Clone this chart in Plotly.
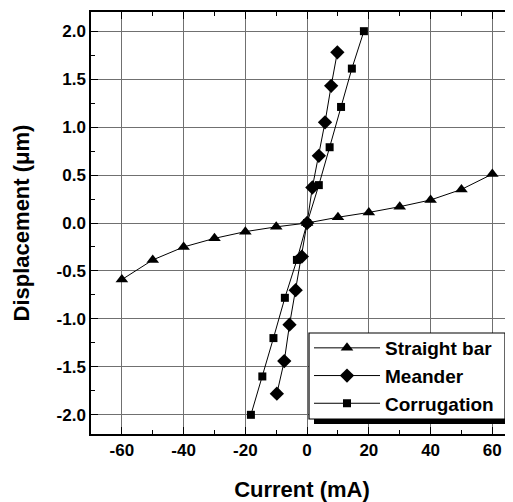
import plotly.graph_objects as go

straight_x = [-60, -50, -40, -30, -20, -10, 0, 10, 20, 30, 40, 50, 60]
straight_y = [-0.59, -0.385, -0.25, -0.16, -0.09, -0.04, 0.0, 0.06, 0.11, 0.17, 0.24, 0.35, 0.51]

meander_x = [-9.8, -7.4, -5.7, -3.7, -1.7, 0.0, 1.7, 3.8, 5.8, 7.8, 9.8]
meander_y = [-1.78, -1.44, -1.06, -0.70, -0.35, 0.0, 0.37, 0.70, 1.05, 1.43, 1.78]

corr_x = [-18.2, -14.5, -10.9, -7.2, -3.3, 0.0, 3.8, 7.3, 11.0, 14.5, 18.4]
corr_y = [-2.0, -1.6, -1.2, -0.78, -0.385, 0.0, 0.395, 0.79, 1.21, 1.61, 2.0]

x_tick_vals = [-60, -40, -20, 0, 20, 40, 60]
x_tick_text = ["-60", "-40", "-20", "0", "20", "40", "60"]
y_tick_vals = [-2.0, -1.5, -1.0, -0.5, 0.0, 0.5, 1.0, 1.5, 2.0]
y_tick_text = ["-2.0", "-1.5", "-1.0", "-0.5", "0.0", "0.5", "1.0", "1.5", "2.0"]

FONT = "Arial, Liberation Sans, sans-serif"

fig = go.Figure()
fig.add_trace(go.Scatter(x=straight_x, y=straight_y, mode="lines+markers", name="Straight bar",
                         line=dict(color="black", width=1),
                         marker=dict(symbol="triangle-up", size=11, color="black")))
fig.add_trace(go.Scatter(x=meander_x, y=meander_y, mode="lines+markers", name="Meander",
                         line=dict(color="black", width=1),
                         marker=dict(symbol="diamond", size=11, color="black")))
fig.add_trace(go.Scatter(x=corr_x, y=corr_y, mode="lines+markers", name="Corrugation",
                         line=dict(color="black", width=1),
                         marker=dict(symbol="square", size=8, color="black")))


def px_x(p):
    # page x pixel -> paper fraction (plot area = page x 91..513)
    return (p - 91) / 422


def px_y(p):
    # page y pixel -> paper fraction (plot area = page y 12..434)
    return (434 - p) / 422


# legend frame: drop shadow then white box with black border
fig.add_shape(type="rect", xref="paper", yref="paper",
              x0=px_x(314), x1=px_x(510), y0=px_y(424), y1=px_y(338),
              fillcolor="black", line=dict(width=0), layer="above")
fig.add_shape(type="rect", xref="paper", yref="paper",
              x0=px_x(309), x1=px_x(505), y0=px_y(419), y1=px_y(333),
              fillcolor="white", line=dict(color="black", width=1.2), layer="above")

# page body has an 8px default margin, so the figure is 505x494 and starts at page (8, 8)
fig.update_layout(
    width=505, height=494,
    margin=dict(l=83, r=0, t=4, b=68),
    paper_bgcolor="white", plot_bgcolor="white",
    font=dict(family=FONT, color="black", weight="bold"),
    showlegend=True,
    legend=dict(x=px_x(309), y=px_y(329), xanchor="left", yanchor="top",
                bgcolor="rgba(0,0,0,0)", borderwidth=0,
                font=dict(size=19, family=FONT, color="black", weight="bold"),
                tracegroupgap=0, itemwidth=66),
)
fig.update_xaxes(
    range=[-70, 66.7], tickvals=x_tick_vals, ticktext=x_tick_text, automargin=False,
    showgrid=True, gridcolor="#707070", gridwidth=1, zeroline=False,
    showline=True, linecolor="black", linewidth=1.5, mirror="ticks",
    ticks="inside", ticklen=7, tickcolor="black",
    minor=dict(dtick=10, tick0=0, ticks="inside", ticklen=4, tickcolor="black", showgrid=False),
    tickfont=dict(size=17, family=FONT, color="black", weight="bold"),
    title=dict(text="Current (mA)", font=dict(size=22, family=FONT, weight="bold"), standoff=25),
)
fig.update_yaxes(
    range=[-2.2, 2.2], tickvals=y_tick_vals, ticktext=y_tick_text, automargin=False,
    showgrid=True, gridcolor="#707070", gridwidth=1, zeroline=False,
    showline=True, linecolor="black", linewidth=1.5,
    ticks="inside", ticklen=7, tickcolor="black",
    minor=dict(dtick=0.25, tick0=0, ticks="inside", ticklen=4, tickcolor="black", showgrid=False),
    tickfont=dict(size=17, family=FONT, color="black", weight="bold"),
    title=dict(text="Displacement (μm)", font=dict(size=22, family=FONT, weight="bold"), standoff=21),
)

fig.write_html("out.html")
